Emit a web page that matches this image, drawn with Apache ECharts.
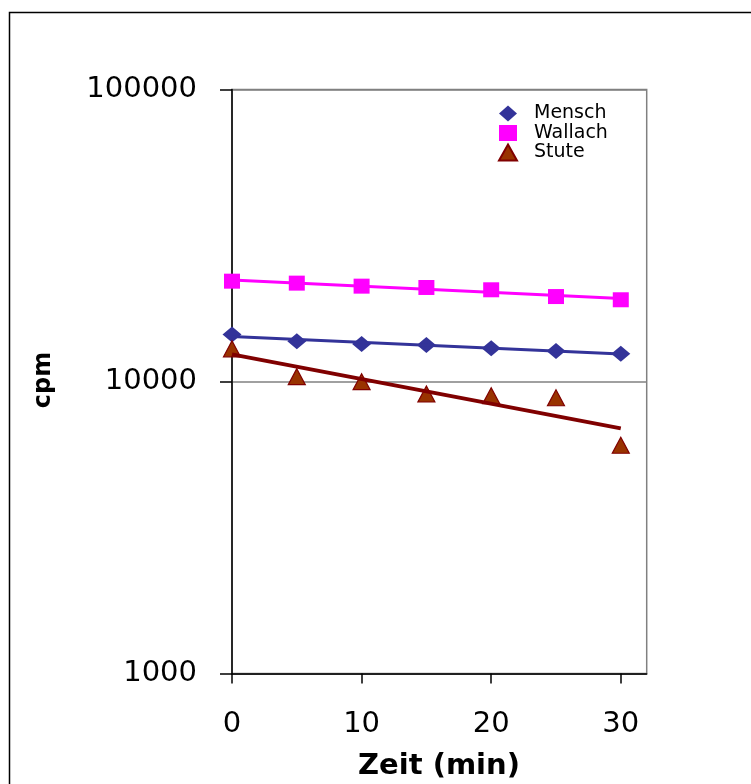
<!DOCTYPE html>
<html>
<head>
<meta charset="utf-8">
<script src="https://cdn.jsdelivr.net/npm/echarts@6/dist/echarts.min.js"></script>
<style>
html,body{margin:0;padding:0;background:#fff;}
#chart{width:751px;height:784px;}
</style>
</head>
<body>
<div id="chart"></div>
<script>
const xValues = [0, 5, 10, 15, 20, 25, 30];
const mensch = [14490, 13740, 13450, 13340, 13000, 12730, 12440];
const wallach = [22060, 21720, 21210, 20990, 20610, 19540, 19050];
const stute = [12940, 10390, 9985, 9060, 8940, 8800, 6050];
const seriesNames = ['Mensch', 'Wallach', 'Stute'];
const xTitle = 'Zeit (min)';
const yTitle = 'cpm';

function pairs(ys) { return xValues.map((x, i) => [x, ys[i]]); }

// exponential least-squares trendline (as Excel's exponential trendline)
function expTrend(ys) {
  const n = xValues.length;
  const lx = xValues, ly = ys.map(v => Math.log(v));
  const mx = lx.reduce((a, b) => a + b, 0) / n;
  const my = ly.reduce((a, b) => a + b, 0) / n;
  let sxy = 0, sxx = 0;
  for (let i = 0; i < n; i++) { sxy += (lx[i] - mx) * (ly[i] - my); sxx += (lx[i] - mx) ** 2; }
  const b = sxy / sxx, a = my - b * mx;
  const x0 = xValues[0], x1 = xValues[n - 1];
  return [[x0, Math.exp(a + b * x0)], [x1, Math.exp(a + b * x1)]];
}

const FONT = 'DejaVu Sans';
const chart = echarts.init(document.getElementById('chart'), null, { renderer: 'canvas' });
const option = {
  backgroundColor: '#ffffff',
  animation: false,
  grid: {
    left: 232, right: 104.3, top: 89.5, bottom: 110.5,
    show: true, borderColor: '#808080', borderWidth: 1.5, backgroundColor: 'transparent'
  },
  legend: {
    data: seriesNames,
    orient: 'vertical',
    left: 493, top: 99,
    itemWidth: 18, itemHeight: 16, itemGap: 0.5,
    textStyle: { fontFamily: FONT, fontSize: 19, color: '#000', lineHeight: 19, padding: [0, 0, 0, 12] }
  },
  xAxis: {
    type: 'value', min: 0, max: 32, interval: 10,
    axisLine: { show: true, lineStyle: { color: '#000', width: 1.5 } },
    axisTick: { show: true, inside: false, length: 10, lineStyle: { color: '#000', width: 1.5 } },
    axisLabel: { margin: 36, fontFamily: FONT, fontSize: 29, color: '#000', showMaxLabel: false },
    splitLine: { show: false }
  },
  yAxis: {
    type: 'log', logBase: 10, min: 1000, max: 100000,
    axisLine: { show: true, lineStyle: { color: '#000', width: 1.5 } },
    axisTick: { show: true, inside: false, length: 12, lineStyle: { color: '#000', width: 1.5 } },
    axisLabel: { margin: 35, fontFamily: FONT, fontSize: 29, color: '#000', formatter: v => String(Math.round(v)) },
    minorTick: { show: false },
    splitLine: { show: true, lineStyle: { color: '#808080', width: 1.5 } }
  },
  series: [
    { name: 'Mensch', type: 'scatter', data: pairs(mensch), symbol: 'diamond', symbolSize: [19, 16],
      itemStyle: { color: '#333399', opacity: 1 }, z: 3 },
    { name: 'Wallach', type: 'scatter', data: pairs(wallach), symbol: 'rect', symbolSize: [16, 15],
      itemStyle: { color: '#FF00FF', opacity: 1 }, z: 3 },
    { name: 'Stute', type: 'scatter', data: pairs(stute), symbol: 'triangle', symbolSize: [17, 16],
      itemStyle: { color: '#993300', borderColor: '#800000', borderWidth: 1.2, opacity: 1 }, z: 3 },
    { name: 'Mensch Trend', type: 'line', data: expTrend(mensch), symbol: 'none',
      lineStyle: { color: '#333399', width: 3 }, z: 4, silent: true },
    { name: 'Wallach Trend', type: 'line', data: expTrend(wallach), symbol: 'none',
      lineStyle: { color: '#FF00FF', width: 3 }, z: 4, silent: true },
    { name: 'Stute Trend', type: 'line', data: expTrend(stute), symbol: 'none',
      lineStyle: { color: '#800000', width: 4 }, z: 4, silent: true }
  ],
  graphic: [
    { type: 'rect', shape: { x: 9.5, y: 12.5, width: 900, height: 900 }, style: { fill: 'none', stroke: '#000', lineWidth: 1.5 }, silent: true, z: 0 },
    { type: 'text', x: 44, y: 380, rotation: Math.PI / 2,
      style: { text: yTitle, font: 'bold 24px "DejaVu Sans"', fill: '#000', align: 'center', verticalAlign: 'middle' } },
    { type: 'text', x: 439, y: 766,
      style: { text: xTitle, font: 'bold 29px "DejaVu Sans"', fill: '#000', align: 'center', verticalAlign: 'middle' } }
  ]
};
chart.setOption(option);
</script>
</body>
</html>
